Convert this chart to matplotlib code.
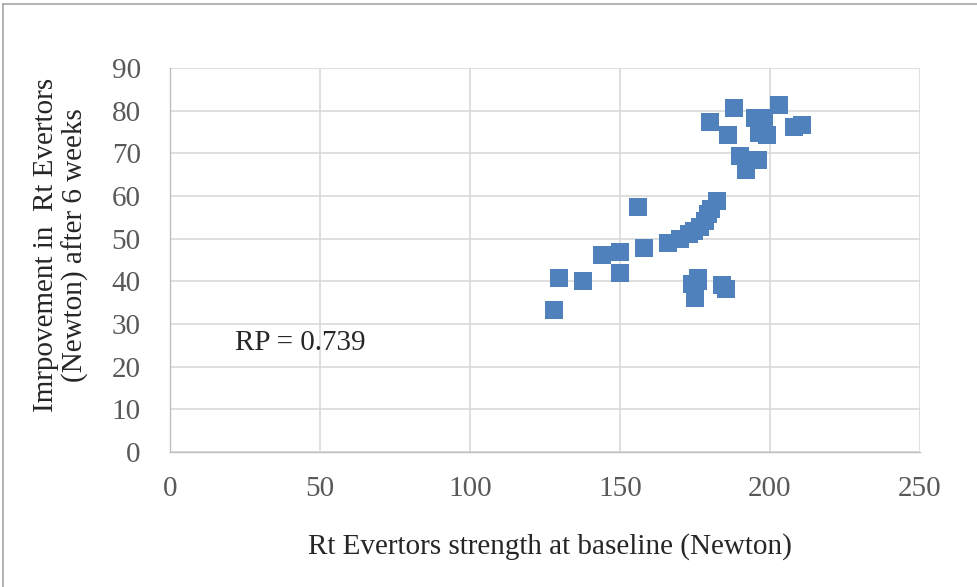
import matplotlib.pyplot as plt
from matplotlib.lines import Line2D

# Baseline strength (N) vs. improvement after 6 weeks (N)
baseline = [128.1, 129.8, 137.8, 144.1, 150.1, 150.1, 156.1, 158.1, 166.1,
            170.1, 173.1, 174.6, 176.8, 178.5, 179.2, 180.2, 182.2,
            174.1, 176.1, 176.1, 175.1, 184.1, 185.2,
            180.1, 188.1, 186.1, 203.1, 195.1, 198.1, 196.2, 199.1,
            208.1, 210.6, 190.1, 196.1, 192.1]
improvement = [33.2, 40.7, 40.2, 46.1, 46.8, 41.9, 57.5, 47.9, 48.9,
               50.0, 51.2, 51.8, 52.8, 54.2, 55.7, 57.0, 58.8,
               39.3, 40.9, 40.1, 36.1, 39.1, 38.3,
               77.4, 80.7, 74.4, 81.3, 78.4, 78.4, 74.8, 74.4,
               76.3, 76.6, 69.5, 68.5, 66.0]

x_ticks = [0, 50, 100, 150, 200, 250]
y_ticks = [0, 10, 20, 30, 40, 50, 60, 70, 80, 90]

plt.rcParams['font.family'] = ['Liberation Serif', 'DejaVu Serif']

fig = plt.figure(figsize=(9.78, 5.87), dpi=100)
ax = fig.add_axes([0.1738, 0.230, 0.7669, 0.654])

# outer frame of the chart area (left and top edges)
frame_kw = dict(transform=fig.transFigure, color='#a6a6a6', linewidth=1.2)
fig.lines.append(Line2D([0.0035, 0.0035], [0.0, 0.9935], **frame_kw))
fig.lines.append(Line2D([0.0035, 1.0], [0.9935, 0.9935], **frame_kw))

ax.scatter(baseline, improvement, marker='s', s=150, color='#4F81BD',
           linewidths=0, zorder=3)

ax.set_xlim(0, 250)
ax.set_ylim(0, 90)
ax.set_xticks(x_ticks)
ax.set_yticks(y_ticks)
ax.grid(True, color='#d9d9d9', linewidth=1.2, zorder=0)
ax.set_axisbelow(True)

for side in ['top', 'right']:
    ax.spines[side].set_visible(False)
for side in ['left', 'bottom']:
    ax.spines[side].set_color('#bfbfbf')
    ax.spines[side].set_linewidth(1.0)

ax.tick_params(axis='both', length=0, labelsize=21, colors='#595959')
ax.tick_params(axis='y', pad=21)
ax.tick_params(axis='x', pad=17)

ax.set_xlabel('Rt Evertors strength at baseline (Newton)', fontsize=21,
              color='#262626')
ax.xaxis.set_label_coords(0.507, -0.21)
ax.set_ylabel('Imrpovement in  Rt Evertors\n(Newton) after 6 weeks', fontsize=21,
              color='#262626', linespacing=1.15)
ax.yaxis.set_label_coords(-0.1453, 0.539)
ax.yaxis.label.set_va('center')

ax.text(43.3, 25.5, 'RP = 0.739', fontsize=21, color='#262626',
        ha='center', va='center')

fig.savefig('out.png', dpi=100)
